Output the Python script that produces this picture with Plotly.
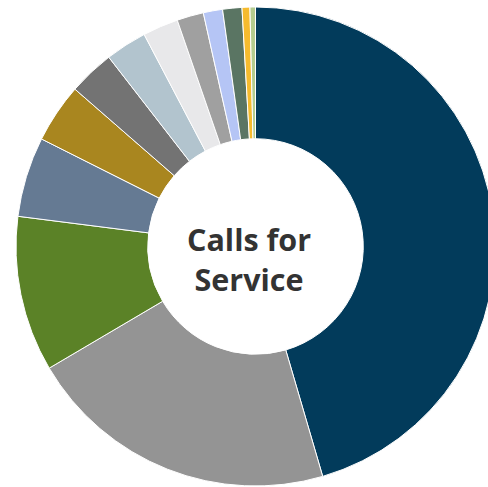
import plotly.graph_objects as go

categories = ["Type A", "Type B", "Type C", "Type D", "Type E", "Type F", "Type G",
              "Type H", "Type I", "Type J", "Type K", "Type L", "Type M"]
values = [45.5, 21.06, 10.5, 5.4, 4.0, 3.1, 2.8, 2.4, 1.8, 1.3, 1.3, 0.53, 0.37]
colors = ["#023b5b", "#949494", "#5b8227", "#657a93", "#a9861f", "#737373", "#b2c4ce",
          "#e8e8ea", "#a0a0a0", "#b5c5f5", "#5a7563", "#f6bb2e", "#b5cc8e"]
center_text = "<b>Calls for</b><br><b>Service</b>"

W, H = 496, 487
fig = go.Figure(go.Pie(
    labels=categories, values=values, sort=False, direction="clockwise", rotation=0,
    hole=0.45, marker=dict(colors=colors, line=dict(color="white", width=1)),
    textinfo="none", showlegend=False,
    domain=dict(x=[16 / W, 495 / W], y=[1 / H, 480 / H]),
))
fig.add_annotation(text=center_text, x=249 / W, y=(H - 259) / H, xref="paper", yref="paper",
                   showarrow=False, font=dict(family="Open Sans", size=30.5, color="#333333"))
fig.update_layout(width=W, height=H, margin=dict(l=0, r=0, t=0, b=0),
                  paper_bgcolor="white", plot_bgcolor="white")
fig.write_html("out.html", post_script="document.body.style.overflow='hidden';document.documentElement.style.overflow='hidden';document.body.style.margin='0';")
